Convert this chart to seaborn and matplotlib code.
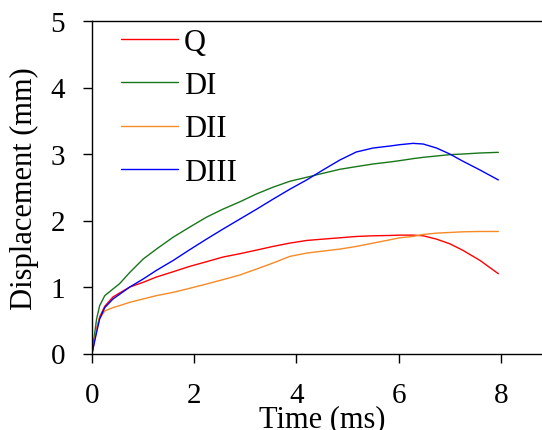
import numpy as np
import pandas as pd
import seaborn as sns
import matplotlib.pyplot as plt

sns.set_style("ticks")
plt.rcParams["font.family"] = ["Liberation Serif", "DejaVu Serif"]
for key in ["text.color", "axes.labelcolor", "xtick.color", "ytick.color",
            "axes.edgecolor"]:
    plt.rcParams[key] = "black"

# Time (ms)
time = [0, 0.09, 0.15, 0.25, 0.41, 0.54, 0.74, 1.0, 1.26, 1.59, 1.91, 2.24,
        2.56, 2.89, 3.22, 3.54, 3.87, 4.2, 4.52, 4.85, 5.17, 5.5, 5.83, 6.02,
        6.28, 6.48, 6.74, 7.0, 7.26, 7.59, 7.95]

# Displacement (mm) for each case
q = [0, 0.37, 0.55, 0.71, 0.85, 0.91, 1.0, 1.07, 1.15, 1.23, 1.31, 1.38,
     1.45, 1.50, 1.555, 1.61, 1.66, 1.70, 1.72, 1.74, 1.76, 1.77, 1.775,
     1.78, 1.78, 1.77, 1.72, 1.65, 1.55, 1.40, 1.20]
d1 = [0, 0.52, 0.72, 0.87, 0.97, 1.05, 1.22, 1.42, 1.57, 1.75, 1.90, 2.05,
      2.17, 2.28, 2.40, 2.50, 2.59, 2.65, 2.71, 2.77, 2.81, 2.85, 2.88,
      2.90, 2.93, 2.95, 2.97, 2.99, 3.00, 3.015, 3.025]
d2 = [0, 0.36, 0.53, 0.64, 0.69, 0.72, 0.77, 0.82, 0.87, 0.92, 0.98, 1.045,
      1.11, 1.18, 1.27, 1.36, 1.46, 1.51, 1.54, 1.57, 1.61, 1.66, 1.71,
      1.74, 1.76, 1.79, 1.81, 1.82, 1.83, 1.835, 1.835]
d3 = [0, 0.32, 0.52, 0.69, 0.82, 0.89, 1.0, 1.12, 1.25, 1.40, 1.56, 1.72,
      1.87, 2.02, 2.17, 2.32, 2.47, 2.61, 2.76, 2.91, 3.03, 3.09, 3.12,
      3.14, 3.16, 3.15, 3.09, 3.0, 2.89, 2.76, 2.61]

labels = ["Q", "DI", "DII", "DIII"]
colors = {"Q": "#ff0000", "DI": "#17761a", "DII": "#f68a25", "DIII": "#0000ff"}

df = pd.concat([
    pd.DataFrame({"Time": time, "Disp": vals, "Case": name})
    for name, vals in zip(labels, [q, d1, d2, d3])
])

fig = plt.figure(figsize=(5.42, 4.31), dpi=100)
ax = fig.add_axes([92 / 542, 1 - 354.5 / 431, 460 / 542, 332.5 / 431])

sns.lineplot(data=df, x="Time", y="Disp", hue="Case", hue_order=labels,
             palette=colors, linewidth=1.0, ax=ax, sort=False)

ax.set_xlim(0, 9)
ax.set_ylim(0, 5)
ax.set_xticks([0, 2, 4, 6, 8])
ax.set_yticks([0, 1, 2, 3, 4, 5])
ax.tick_params(axis="both", direction="out", length=6.5, width=1,
               labelsize=21)
ax.tick_params(axis="x", pad=14)
ax.tick_params(axis="y", pad=13)
for s in ax.spines.values():
    s.set_linewidth(1.0)

ax.set_xlabel("Time (ms)", fontsize=22)
ax.set_ylabel("Displacement (mm)", fontsize=22)
ax.xaxis.set_label_coords(0.5, -0.152)
ax.yaxis.set_label_coords(-0.115, 0.5)

leg = ax.legend(loc="upper left", bbox_to_anchor=(0.063, 0.98),
                frameon=False, fontsize=22, handlelength=1.86,
                handletextpad=0.2, labelspacing=0.47,
                borderpad=0, borderaxespad=0)
for line in leg.get_lines():
    line.set_linewidth(1.0)

fig.savefig("out.png", dpi=100)
